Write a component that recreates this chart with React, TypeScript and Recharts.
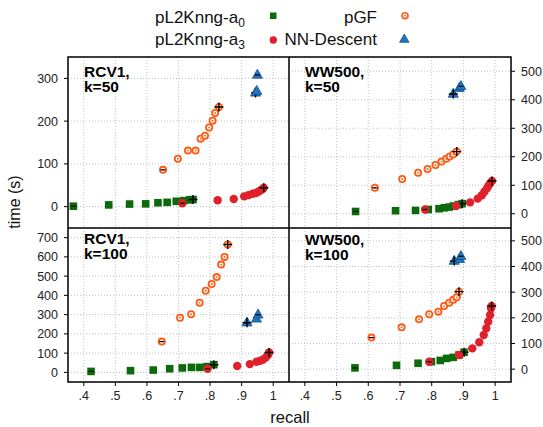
import React from 'react';
import {ScatterChart, Scatter, XAxis, YAxis, CartesianGrid} from 'recharts';

// ---------------------------------------------------------------------------
// DATA  (recall, time in seconds)
// ---------------------------------------------------------------------------

type Pt = [number, number];

const xTicks = [0.4, 0.5, 0.6, 0.7, 0.8, 0.9, 1];
const yTicksRcv50 = [0, 100, 200, 300];
const yTicksRcv100 = [0, 100, 200, 300, 400, 500, 600, 700];
const yTicksWw = [0, 100, 200, 300, 400, 500];

// RCV1, k=50
const rcv50A0: Pt[] = [[0.367, 1], [0.479, 4], [0.545, 6], [0.596, 6.5], [0.635, 9], [0.664, 10], [0.693, 12.5], [0.717, 14], [0.736, 16], [0.746, 16.5]];
const rcv50A3: Pt[] = [[0.712, 8], [0.824, 15], [0.875, 18], [0.908, 24], [0.922, 27], [0.935, 30], [0.945, 32], [0.953, 35], [0.96, 38], [0.966, 41], [0.97, 44]];
const rcv50Pgf: Pt[] = [[0.651, 86], [0.698, 112], [0.73, 131], [0.754, 131], [0.77, 159], [0.784, 166], [0.797, 185], [0.808, 201], [0.816, 219], [0.828, 233]];
const rcv50Nn: Pt[] = [[0.944, 266], [0.948, 270], [0.95, 308]];

// WW500, k=50
const ww50A0: Pt[] = [[0.56, 8], [0.686, 10.6], [0.749, 11.7], [0.789, 15], [0.823, 17.7], [0.84, 21], [0.855, 23.4], [0.868, 27], [0.884, 32], [0.896, 35.5]];
const ww50A3: Pt[] = [[0.779, 15], [0.877, 27], [0.921, 40], [0.945, 53], [0.958, 65], [0.966, 77], [0.974, 89], [0.979, 98], [0.984, 106], [0.99, 115]];
const ww50Pgf: Pt[] = [[0.621, 91], [0.707, 122], [0.757, 144], [0.787, 157], [0.812, 171], [0.831, 183], [0.846, 193], [0.857, 201], [0.868, 209], [0.879, 218]];
const ww50Nn: Pt[] = [[0.868, 420], [0.887, 440], [0.892, 447]];

// RCV1, k=100
const rcv100A0: Pt[] = [[0.423, 5], [0.548, 9], [0.62, 12], [0.672, 19], [0.712, 23], [0.741, 26], [0.767, 26], [0.79, 30], [0.812, 40]];
const rcv100A3: Pt[] = [[0.792, 19], [0.886, 33], [0.926, 43], [0.947, 55], [0.958, 60], [0.968, 67], [0.977, 78], [0.984, 92], [0.987, 103]];
const rcv100Pgf: Pt[] = [[0.647, 160], [0.705, 284], [0.74, 302], [0.767, 362], [0.786, 424], [0.805, 459], [0.821, 495], [0.835, 560], [0.846, 600], [0.856, 664]];
const rcv100Nn: Pt[] = [[0.917, 258], [0.947, 278], [0.952, 299]];

// WW500, k=100
const ww100A0: Pt[] = [[0.558, 5], [0.689, 15], [0.757, 23], [0.799, 29], [0.827, 34], [0.847, 42], [0.868, 46], [0.886, 55], [0.902, 66]];
const ww100A3: Pt[] = [[0.792, 29], [0.886, 55], [0.928, 81], [0.95, 105], [0.964, 133], [0.972, 159], [0.978, 185], [0.984, 211], [0.987, 237], [0.989, 246]];
const ww100Pgf: Pt[] = [[0.61, 123], [0.705, 163], [0.76, 194], [0.792, 214], [0.821, 224], [0.839, 246], [0.855, 259], [0.868, 270], [0.879, 280], [0.886, 302]];
const ww100Nn: Pt[] = [[0.871, 421], [0.888, 428], [0.892, 440]];

// ---------------------------------------------------------------------------
// LAYOUT / STYLE
// ---------------------------------------------------------------------------

const W = 543;
const H = 427;
const FONT = '"Liberation Sans", Arial, Helvetica, sans-serif';
const FR = {left: 68, midX: 289, right: 511, top: 57, midY: 228, bottom: 382};
const Y_W_LEFT = 50;
const Y_W_RIGHT = 30;
const X_H = 30;

const GREEN = '#0b6b0b';
const RED = '#e0202a';
const ORANGE = '#ff5a14';
const BLUE = '#2075c0';
const GRID = '#c2c2c2';
const TICK_STYLE = {fontSize: 12.5, fill: '#222', fontFamily: FONT};

const toPoints = (pts: Pt[], plusFirst = false) =>
  pts.map(([x, y], i) => ({
    x,
    y,
    mark:
      i === 0 ? (plusFirst ? 'plus' : 'minus') : i === pts.length - 1 ? (plusFirst ? 'minus' : 'plus') : '',
  }));

const markOf = (p: any) => {
  const m = p.payload?.mark;
  if (m === 'plus')
    return <path d={`M${p.cx - 4.5},${p.cy}h9M${p.cx},${p.cy - 4.5}v9`} stroke="#000" strokeWidth={1.4} />;
  if (m === 'minus')
    return <path d={`M${p.cx - 2.5},${p.cy}h5`} stroke="#000" strokeWidth={1.2} />;
  return null;
};

const SquareDot = (p: any) => (
  <g>
    <rect x={p.cx - 3.8} y={p.cy - 3.8} width={7.6} height={7.6} fill={GREEN} />
    {markOf(p)}
  </g>
);
const RedDot = (p: any) => (
  <g>
    <circle cx={p.cx} cy={p.cy} r={4.2} fill={RED} />
    {markOf(p)}
  </g>
);
const RingDot = (p: any) => (
  <g>
    <circle cx={p.cx} cy={p.cy} r={4} fill={ORANGE} />
    <circle cx={p.cx} cy={p.cy} r={2.2} fill="#fff" />
    <circle cx={p.cx} cy={p.cy} r={0.9} fill={ORANGE} />
    {markOf(p)}
  </g>
);
const Tri = (p: any) => (
  <g>
    <path
      d={`M${p.cx},${p.cy - 5.8}L${p.cx + 5},${p.cy + 3.2}L${p.cx - 5},${p.cy + 3.2}Z`}
      fill={BLUE}
      stroke="#15508c"
      strokeWidth={0.8}
    />
    {markOf(p)}
  </g>
);

const fmtX = (v: number) => (v >= 1 ? '1' : '.' + Math.round(v * 10));

interface PanelProps {
  side: 'left' | 'right';
  row: 'top' | 'bottom';
  yDomain: [number, number];
  yTicks: number[];
  a0: Pt[];
  a3: Pt[];
  pgf: Pt[];
  nn: Pt[];
}

const Panel: React.FC<PanelProps> = ({side, row, yDomain, yTicks, a0, a3, pgf, nn}) => {
  const isLeft = side === 'left';
  const isTop = row === 'top';
  const margin = {
    top: isTop ? FR.top : FR.midY,
    bottom: isTop ? H - FR.midY : H - FR.bottom - X_H,
    left: isLeft ? FR.left - Y_W_LEFT : FR.midX,
    right: isLeft ? W - FR.midX : W - FR.right - Y_W_RIGHT,
  };
  return (
    <div style={{position: 'absolute', left: 0, top: 0}}>
      <ScatterChart width={W} height={H} margin={margin}>
        <CartesianGrid stroke={GRID} strokeDasharray="1 2" />
        <XAxis
          type="number"
          dataKey="x"
          domain={[0.35, 1.05]}
          allowDataOverflow
          ticks={xTicks}
          interval={0}
          tickFormatter={fmtX}
          hide={isTop}
          height={X_H}
          axisLine={false}
          tickLine={{stroke: '#000'}}
          tickSize={4}
          tickMargin={5}
          tick={TICK_STYLE}
        />
        <YAxis
          type="number"
          dataKey="y"
          domain={yDomain}
          allowDataOverflow
          ticks={yTicks}
          interval={0}
          orientation={isLeft ? 'left' : 'right'}
          width={isLeft ? Y_W_LEFT : Y_W_RIGHT}
          axisLine={false}
          tickLine={{stroke: '#000'}}
          tickSize={4}
          tickMargin={6}
          tick={TICK_STYLE}
        />
        <Scatter data={toPoints(a0)} shape={SquareDot} isAnimationActive={false} />
        <Scatter data={toPoints(a3)} shape={RedDot} isAnimationActive={false} />
        <Scatter data={toPoints(pgf)} shape={RingDot} isAnimationActive={false} />
        <Scatter data={toPoints(nn, true)} shape={Tri} isAnimationActive={false} />
      </ScatterChart>
    </div>
  );
};

const PanelTitle = ({x, y, lines}: {x: number; y: number; lines: string[]}) => (
  <g fontSize={15.5} fontWeight="bold" fill="#000" fontFamily={FONT}>
    {lines.map((l, i) => (
      <text key={i} x={x} y={y + i * 14.5}>
        {l}
      </text>
    ))}
  </g>
);

export default function App() {
  return (
    <div style={{position: 'absolute', left: 0, top: 0, width: W, height: H, background: '#fff', fontFamily: FONT}}>
      <Panel side="left" row="top" yDomain={[-50, 350]} yTicks={yTicksRcv50} a0={rcv50A0} a3={rcv50A3} pgf={rcv50Pgf} nn={rcv50Nn} />
      <Panel side="right" row="top" yDomain={[-50, 550]} yTicks={yTicksWw} a0={ww50A0} a3={ww50A3} pgf={ww50Pgf} nn={ww50Nn} />
      <Panel side="left" row="bottom" yDomain={[-50, 750]} yTicks={yTicksRcv100} a0={rcv100A0} a3={rcv100A3} pgf={rcv100Pgf} nn={rcv100Nn} />
      <Panel side="right" row="bottom" yDomain={[-50, 550]} yTicks={yTicksWw} a0={ww100A0} a3={ww100A3} pgf={ww100Pgf} nn={ww100Nn} />

      <svg width={W} height={H} style={{position: 'absolute', left: 0, top: 0, pointerEvents: 'none'}}>
        {/* frame */}
        <rect x={FR.left} y={FR.top} width={FR.right - FR.left} height={FR.bottom - FR.top} fill="none" stroke="#000" strokeWidth={1.5} />
        <line x1={FR.midX} y1={FR.top} x2={FR.midX} y2={FR.bottom} stroke="#000" strokeWidth={1.5} />
        <line x1={FR.left} y1={FR.midY} x2={FR.right} y2={FR.midY} stroke="#000" strokeWidth={1.5} />

        {/* panel titles */}
        <PanelTitle x={84} y={77} lines={['RCV1,', 'k=50']} />
        <PanelTitle x={305} y={77} lines={['WW500,', 'k=50']} />
        <PanelTitle x={84} y={244} lines={['RCV1,', 'k=100']} />
        <PanelTitle x={305} y={245} lines={['WW500,', 'k=100']} />

        {/* axis titles */}
        <text x={290} y={423} textAnchor="middle" fontSize={16.5} fill="#111" fontFamily={FONT}>
          recall
        </text>
        <text x={20} y={202} transform="rotate(-90 20 202)" textAnchor="middle" fontSize={16} fill="#111" fontFamily={FONT}>
          time (s)
        </text>

        {/* legend */}
        <g fontFamily={FONT} fontSize={17} fill="#111">
          <text x={155} y={23}>
            pL2Knng-a<tspan fontSize={12} dy={4}>0</tspan>
          </text>
          <rect x={270} y={12.5} width={6.5} height={6.5} fill={GREEN} />
          <text x={377} y={23} textAnchor="end">
            pGF
          </text>
          <circle cx={405} cy={15.7} r={3.8} fill={ORANGE} />
          <circle cx={405} cy={15.7} r={2.1} fill="#fff" />
          <circle cx={405} cy={15.7} r={0.9} fill={ORANGE} />

          <text x={155} y={45}>
            pL2Knng-a<tspan fontSize={12} dy={4}>3</tspan>
          </text>
          <circle cx={273.3} cy={40} r={3.7} fill={RED} />
          <text x={377} y={45} textAnchor="end">
            NN-Descent
          </text>
          <path d="M404.3,34L409,42.3L399.6,42.3Z" fill={BLUE} stroke="#15508c" strokeWidth={0.8} />
        </g>
      </svg>
    </div>
  );
}
